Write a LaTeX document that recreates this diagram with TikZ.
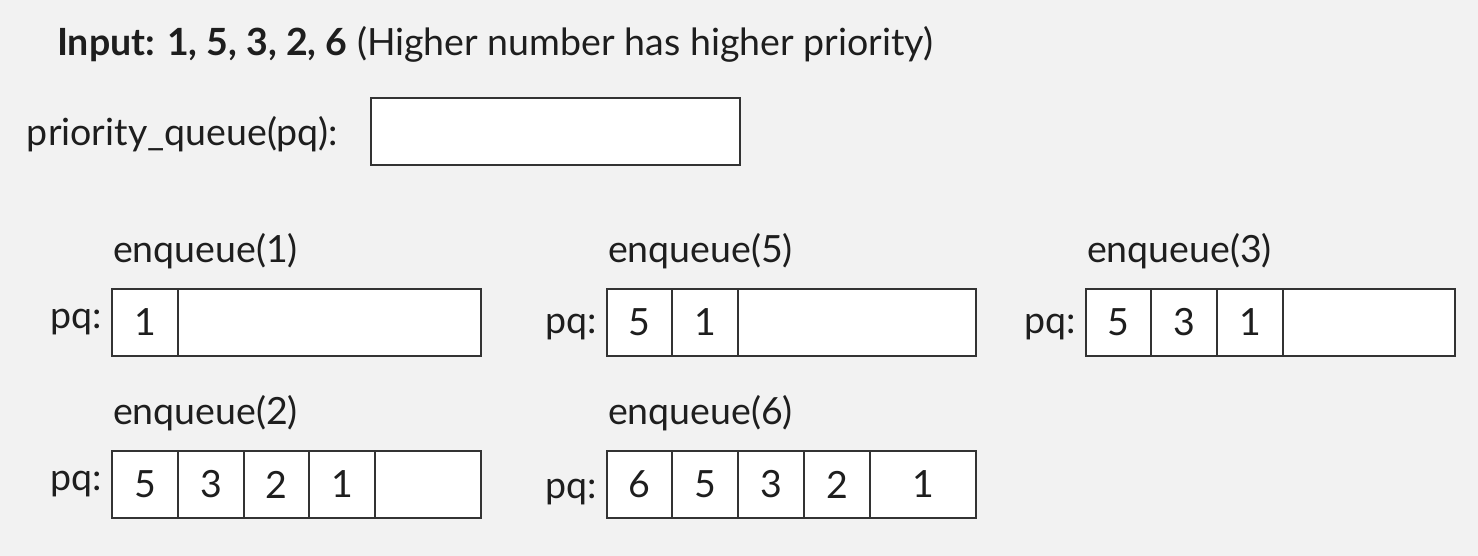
\documentclass[tikz,border=0pt]{standalone}
\usepackage{fontspec}
\setmainfont{Lato}
\definecolor{bg}{HTML}{F2F2F2}
\definecolor{ink}{HTML}{1E1E1E}
\definecolor{boxc}{HTML}{333333}
\begin{document}
\begin{tikzpicture}[x=1pt,y=-1pt,
  txt/.style={anchor=base west, inner sep=0pt, outer sep=0pt, text=ink, font=\fontsize{37.5}{44}\selectfont},
  pqt/.style={txt, anchor=base east},
  cell/.style={draw=boxc, line width=1.8pt, fill=white, minimum height=67pt, inner sep=0pt, outer sep=0pt,
    anchor=north west, text=ink, font=\fontsize{37.5}{44}\selectfont}]
\fill[bg] (0,0) rectangle (1478,556);
\useasboundingbox (0,0) rectangle (1478,556);
% title
\node[txt] (title) at (57,56) {\textbf{Input: 1, 5, 3, 2, 6} (Higher number has higher priority)};
\node[txt] (pqlabel) at (27,146) {priority\_queue(pq):};
\node[cell, minimum width=369pt] (pq0) at (371,98) {};
% row 1: enqueue(1)
\node[txt] (e1) at (113,262) {enqueue(1)};
\node[pqt] (p1) at (102,328) {pq:};
\node[cell, minimum width=66pt] (a1) at (112,289) {1};
\node[cell, minimum width=303pt] (a2) at (178,289) {};
% enqueue(5)
\node[txt] (e5) at (608,262) {enqueue(5)};
\node[pqt] (p5) at (597,333) {pq:};
\node[cell, minimum width=65pt] (b1) at (607,289) {5};
\node[cell, minimum width=66pt] (b2) at (672,289) {1};
\node[cell, minimum width=238pt] (b3) at (738,289) {};
% enqueue(3)
\node[txt] (e3) at (1087,262) {enqueue(3)};
\node[pqt] (p3) at (1076,333) {pq:};
\node[cell, minimum width=65pt] (c1) at (1086,289) {5};
\node[cell, minimum width=66pt] (c2) at (1151,289) {3};
\node[cell, minimum width=66pt] (c3) at (1217,289) {1};
\node[cell, minimum width=172pt] (c4) at (1283,289) {};
% enqueue(2)
\node[txt] (e2) at (113,424) {enqueue(2)};
\node[pqt] (p2) at (102,490) {pq:};
\node[cell, minimum width=66pt] (d1) at (112,451) {5};
\node[cell, minimum width=66pt] (d2) at (178,451) {3};
\node[cell, minimum width=65pt] (d3) at (244,451) {2};
\node[cell, minimum width=66pt] (d4) at (309,451) {1};
\node[cell, minimum width=106pt] (d5) at (375,451) {};
% enqueue(6)
\node[txt] (e6) at (608,424) {enqueue(6)};
\node[pqt] (p6) at (597,498) {pq:};
\node[cell, minimum width=65pt] (f1) at (607,451) {6};
\node[cell, minimum width=66pt] (f2) at (672,451) {5};
\node[cell, minimum width=66pt] (f3) at (738,451) {3};
\node[cell, minimum width=66pt] (f4) at (804,451) {2};
\node[cell, minimum width=106pt] (f5) at (870,451) {1};
\end{tikzpicture}
\end{document}
